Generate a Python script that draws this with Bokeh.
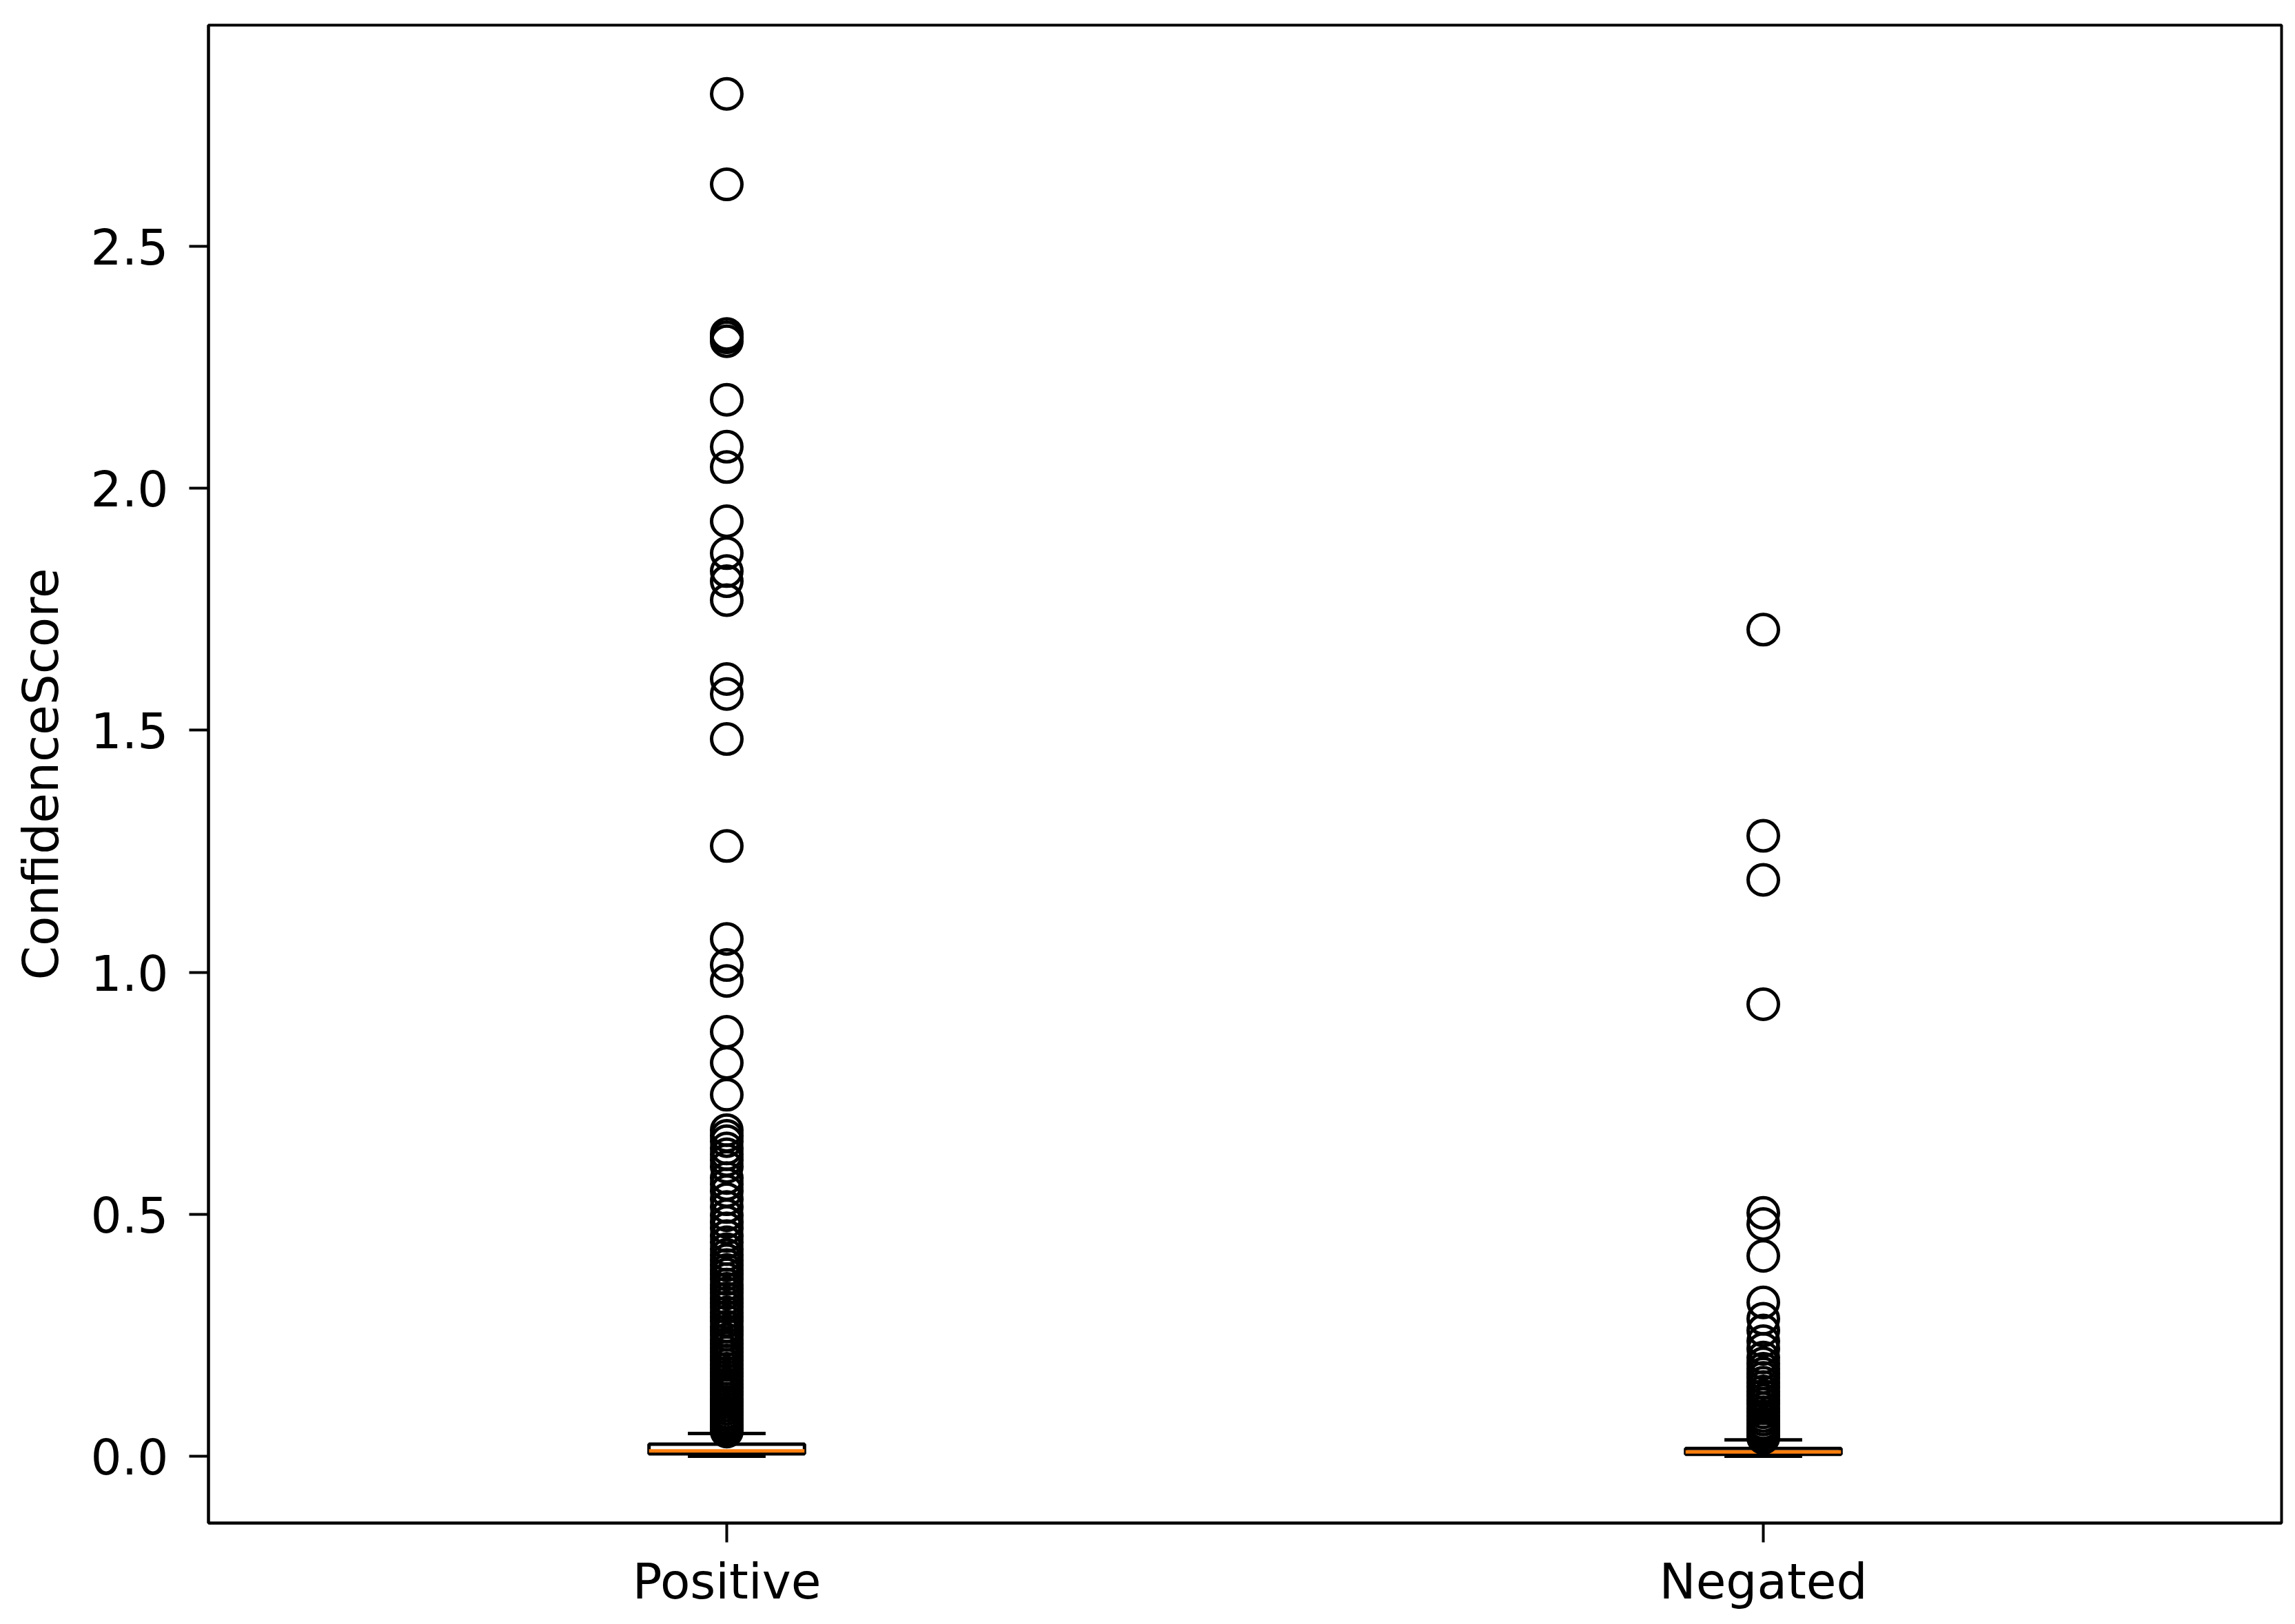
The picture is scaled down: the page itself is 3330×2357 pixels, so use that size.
from bokeh.plotting import figure
from bokeh.models import Range1d, FixedTicker
from bokeh.embed import file_html
from bokeh.resources import INLINE

# ---- data ----
categories = ["Positive", "Negated"]
q1 = [0.005, 0.004]
median = [0.011, 0.009]
q3 = [0.025, 0.016]
whisker_low = [0.0, 0.0]
whisker_high = [0.047, 0.034]

positive_fliers = [2.815, 2.628, 2.319, 2.312, 2.304, 2.183, 2.086, 2.044, 1.932, 1.866,
                   1.829, 1.808, 1.769, 1.606, 1.575, 1.482, 1.261, 1.069, 1.015, 0.982,
                   0.877, 0.813, 0.747, 0.674, 0.662, 0.651, 0.636, 0.624, 0.612, 0.598,
                   0.575, 0.562, 0.548, 0.531, 0.515, 0.498, 0.484, 0.471, 0.455, 0.442,
                   0.428, 0.416, 0.405, 0.395, 0.385, 0.376, 0.366, 0.355, 0.346, 0.337,
                   0.326, 0.317, 0.308, 0.297, 0.288, 0.279, 0.268, 0.259, 0.251, 0.241,
                   0.232, 0.224, 0.215, 0.206, 0.198, 0.189, 0.181, 0.173, 0.165, 0.157,
                   0.149, 0.141, 0.134, 0.127, 0.119, 0.112, 0.105, 0.098, 0.091, 0.085,
                   0.078, 0.072, 0.066, 0.061, 0.056, 0.051]
negated_fliers = [1.708, 1.282, 1.191, 0.934, 0.503, 0.480, 0.414, 0.318, 0.284, 0.260,
                  0.238, 0.222, 0.204, 0.192, 0.181, 0.171, 0.162, 0.152, 0.143, 0.134,
                  0.125, 0.116, 0.108, 0.099, 0.091, 0.083, 0.076, 0.068, 0.061, 0.055,
                  0.049, 0.043, 0.038]
fliers = [positive_fliers, negated_fliers]

y_ticks = [0.0, 0.5, 1.0, 1.5, 2.0, 2.5]
y_label = "ConfidenceScore"

# ---- derived ----
positions = [i + 1 for i in range(len(categories))]
box_w = 0.15
cap_w = box_w / 2

FONT = "DejaVu Sans"
FS = "71px"
LW = 5

p = figure(frame_width=3008, frame_height=2174,
           min_border_left=302, min_border_right=4, min_border_top=36, min_border_bottom=131,
           x_range=Range1d(0.5, 2.5), y_range=Range1d(-0.138, 2.957),
           output_backend="svg", toolbar_location=None, tools="")

p.background_fill_color = "white"
p.border_fill_color = "white"
p.outline_line_color = "black"
p.outline_line_width = 4
p.xgrid.visible = False
p.ygrid.visible = False

# whiskers
p.segment(x0=positions, y0=whisker_low, x1=positions, y1=q1, line_color="black", line_width=LW)
p.segment(x0=positions, y0=q3, x1=positions, y1=whisker_high, line_color="black", line_width=LW)
# caps
p.segment(x0=[x - cap_w / 2 for x in positions], y0=whisker_low,
          x1=[x + cap_w / 2 for x in positions], y1=whisker_low, line_color="black", line_width=LW)
p.segment(x0=[x - cap_w / 2 for x in positions], y0=whisker_high,
          x1=[x + cap_w / 2 for x in positions], y1=whisker_high, line_color="black", line_width=LW)
# boxes
p.quad(left=[x - box_w / 2 for x in positions], right=[x + box_w / 2 for x in positions],
       bottom=q1, top=q3, fill_color=None, line_color="black", line_width=LW)
# medians
p.segment(x0=[x - box_w / 2 for x in positions], y0=median,
          x1=[x + box_w / 2 for x in positions], y1=median, line_color="#ff7f0e", line_width=LW)
# fliers
fx, fy = [], []
for pos, fl in zip(positions, fliers):
    fx += [pos] * len(fl)
    fy += fl
p.scatter(x=fx, y=fy, marker="circle", size=44, fill_color=None,
          line_color="black", line_width=5)

# axes
for ax in (p.xaxis[0], p.yaxis[0]):
    ax.axis_line_color = "black"
    ax.axis_line_width = 4
    ax.major_tick_line_width = 4
    ax.major_tick_line_color = "black"
    ax.major_tick_out = 28
    ax.major_tick_in = 0
    ax.minor_tick_line_color = None
    ax.major_label_text_font = FONT
    ax.major_label_text_font_size = FS
    ax.major_label_text_color = "black"

p.xaxis.ticker = FixedTicker(ticks=positions)
p.xaxis.major_label_overrides = {pos: c for pos, c in zip(positions, categories)}
p.xaxis.major_label_standoff = 15

p.yaxis.ticker = FixedTicker(ticks=y_ticks)
p.yaxis.major_label_overrides = {t: f"{t:.1f}" for t in y_ticks}
p.yaxis.major_label_standoff = 30
p.yaxis.axis_label = y_label
p.yaxis.axis_label_text_font = FONT
p.yaxis.axis_label_text_font_size = FS
p.yaxis.axis_label_text_font_style = "normal"
p.yaxis.axis_label_text_color = "black"
p.yaxis.axis_label_standoff = 28

open("out.html", "w").write(file_html(p, INLINE))
